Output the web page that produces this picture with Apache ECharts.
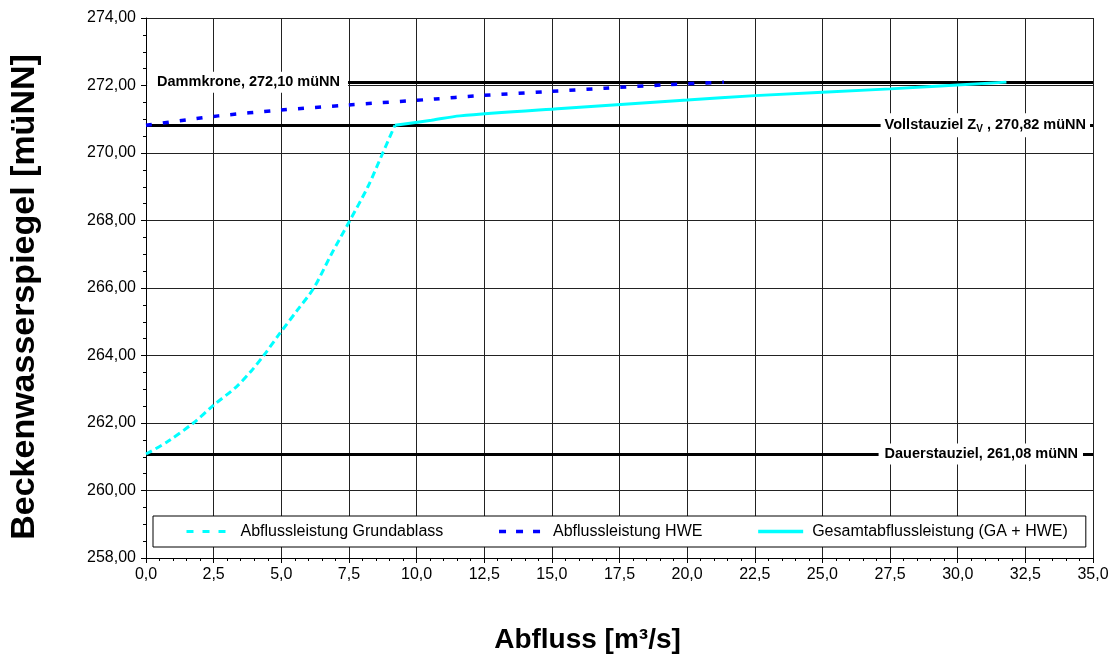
<!DOCTYPE html>
<html>
<head>
<meta charset="utf-8">
<title>Abflussleistung</title>
<script src="https://cdn.jsdelivr.net/npm/echarts@6/dist/echarts.min.js"></script>
<style>
  html, body { margin: 0; padding: 0; background: #fff; }
  #chart { width: 1111px; height: 655px; }
</style>
</head>
<body>
<div id="chart"></div>
<script>
// Abfluss [m³/s] / Beckenwasserspiegel [müNN]
const gaQ = [0, 0.8, 1.75, 2.5, 3.35, 3.9, 4.35, 4.95, 5.6, 6.2, 6.85, 7.5, 8.2, 8.75, 9.2];
const gaH = [261.08, 261.45, 262.0, 262.53, 263.08, 263.55, 264.0, 264.66, 265.35, 266.0, 267.0, 267.95, 269.0, 270.0, 270.82];

const hweQ = [0, 1.5, 2.67, 4.95, 7.42, 10.7, 12.15, 14.87, 16.95, 19.19, 21.36];
const hweH = [270.82, 270.98, 271.1, 271.27, 271.42, 271.6, 271.69, 271.82, 271.92, 272.02, 272.1];

const sumQ = [9.2, 10.55, 11.6, 15.35, 20.0, 22.5, 27.5, 31.8];
const sumH = [270.82, 270.97, 271.1, 271.32, 271.57, 271.7, 271.9, 272.1];

const seriesNames = ['Abflussleistung Grundablass', 'Abflussleistung HWE', 'Gesamtabflussleistung (GA + HWE)'];

// Stauziele
const levelValues = [272.10, 270.82, 261.08];
const levelAnchorQ = [0.04, 34.89, 34.63];

const font = "'Liberation Sans', Arial, sans-serif";
const zip = (xs, ys) => xs.map((x, i) => [x, ys[i]]);
const comma = (v, d) => v.toFixed(d).replace('.', ',');

const chart = echarts.init(document.getElementById('chart'));

const labelStyle = {
  show: true,
  color: '#000',
  fontFamily: font,
  fontWeight: 'bold',
  fontSize: 14.5,
  backgroundColor: '#fff',
  opacity: 1,
  distance: 0
};

const option = {
  animation: false,
  textStyle: { fontFamily: font },
  grid: { left: 146, right: 18, top: 18, bottom: 97, outerBoundsMode: 'none', containLabel: false },
  legend: {
    data: [
      { name: seriesNames[0], lineStyle: { width: 3, type: [7, 9] } },
      { name: seriesNames[1], lineStyle: { width: 3.5, type: [7, 10] } },
      { name: seriesNames[2], lineStyle: { width: 3.5 } }
    ],
    left: 153,
    top: 516,
    orient: 'horizontal',
    backgroundColor: '#fff',
    borderColor: '#000',
    borderWidth: 1,
    borderRadius: 0,
    padding: [7, 18, 7, 32],
    itemWidth: 45,
    itemHeight: 14,
    itemGap: 54,
    itemStyle: { opacity: 0 },
    lineStyle: { width: 3 },
    textStyle: { fontFamily: font, fontSize: 16, color: '#000', padding: [0, 0, 0, 4], lineHeight: 17 }
  },
  xAxis: {
    type: 'value',
    min: 0,
    max: 35,
    interval: 2.5,
    name: 'Abfluss [m³/s]',
    nameLocation: 'middle',
    nameGap: 68,
    nameTextStyle: { fontFamily: font, fontSize: 28, fontWeight: 'bold', color: '#000', padding: [0, 64, 0, 0] },
    axisLine: { lineStyle: { color: '#000', width: 1 } },
    axisTick: { length: 5, lineStyle: { color: '#000' } },
    minorTick: { show: true, splitNumber: 5, length: 3, lineStyle: { color: '#000' } },
    axisLabel: { color: '#000', fontSize: 16, margin: 9, formatter: v => comma(v, 1) },
    splitLine: { show: true, lineStyle: { color: '#222', width: 1 } }
  },
  yAxis: {
    type: 'value',
    min: 258,
    max: 274,
    interval: 2,
    name: 'Beckenwasserspiegel [müNN]',
    nameLocation: 'middle',
    nameGap: 104,
    nameRotate: 90,
    nameTextStyle: { fontFamily: font, fontSize: 34, fontWeight: 'bold', color: '#000', padding: [0, 18, 0, 0] },
    axisLine: { show: true, lineStyle: { color: '#000', width: 1 } },
    axisTick: { show: true, length: 5, lineStyle: { color: '#000' } },
    minorTick: { show: true, splitNumber: 4, length: 3, lineStyle: { color: '#000' } },
    axisLabel: { color: '#000', fontSize: 16, margin: 10, formatter: v => comma(v, 2) },
    splitLine: { show: true, lineStyle: { color: '#222', width: 1 } }
  },
  series: [
    {
      name: seriesNames[0],
      type: 'line',
      data: zip(gaQ, gaH),
      smooth: 0.3,
      symbol: 'none',
      z: 4,
      lineStyle: { color: '#00ffff', width: 3, type: [7, 4] },
      itemStyle: { color: '#00ffff' },
      markLine: {
        silent: true,
        symbol: ['none', 'none'],
        label: { show: false },
        lineStyle: { color: '#000', width: 3, type: 'solid' },
        emphasis: { disabled: true },
        z: 3,
        data: levelValues.map(v => ({ yAxis: v }))
      }
    },
    {
      name: seriesNames[1],
      type: 'line',
      data: zip(hweQ, hweH),
      smooth: 0.3,
      symbol: 'none',
      z: 4,
      lineStyle: { color: '#0000ff', width: 3.5, type: [6, 11] },
      itemStyle: { color: '#0000ff' }
    },
    {
      name: seriesNames[2],
      type: 'line',
      data: zip(sumQ, sumH),
      smooth: 0.3,
      symbol: 'none',
      z: 4,
      lineStyle: { color: '#00ffff', width: 3, type: 'solid' },
      itemStyle: { color: '#00ffff' }
    },
    {
      type: 'scatter',
      symbolSize: 0,
      silent: true,
      z: 5,
      itemStyle: { opacity: 1 },
      emphasis: { disabled: true },
      data: [
        {
          value: [levelAnchorQ[0], levelValues[0]],
          label: Object.assign({}, labelStyle, {
            position: 'right',
            padding: [3, 8, 3, 10],
            formatter: 'Dammkrone, ' + comma(levelValues[0], 2) + ' müNN'
          })
        },
        {
          value: [levelAnchorQ[1], levelValues[1]],
          label: Object.assign({}, labelStyle, {
            position: 'left',
            padding: [3, 4, 3, 4],
            formatter: '{n|Vollstauziel Z}{s|V}{n| , ' + comma(levelValues[1], 2) + ' müNN}',
            rich: {
              n: { fontFamily: font, fontWeight: 'bold', fontSize: 14.5, color: '#000', lineHeight: 18 },
              s: { fontFamily: font, fontWeight: 'bold', fontSize: 10, color: '#000', lineHeight: 18, verticalAlign: 'bottom', padding: [8, 0, 0, 0] }
            }
          })
        },
        {
          value: [levelAnchorQ[2], levelValues[2]],
          label: Object.assign({}, labelStyle, {
            position: 'left',
            padding: [3, 5, 3, 6],
            formatter: 'Dauerstauziel, ' + comma(levelValues[2], 2) + ' müNN'
          })
        }
      ]
    }
  ]
};

chart.setOption(option);
</script>
</body>
</html>
